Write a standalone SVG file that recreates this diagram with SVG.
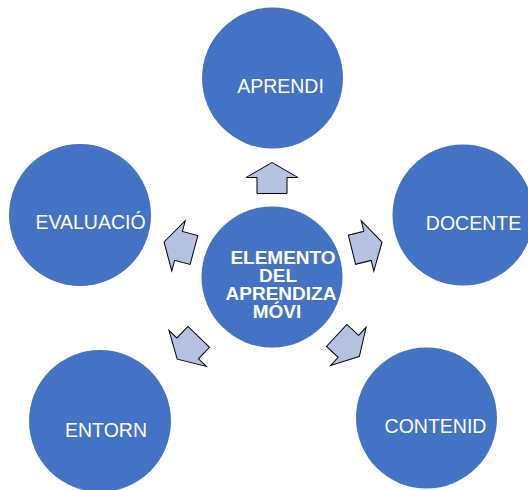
<svg xmlns="http://www.w3.org/2000/svg" width="528" height="490" viewBox="0 0 528 490">
  <style>
    .node { fill: #4472C4; }
    .lbl { font-family: "Liberation Sans", Arial, sans-serif; font-size: 19.5px; fill: #FFFFFF; text-anchor: middle; }
    .ctr { font-family: "Liberation Sans", Arial, sans-serif; font-size: 19px; font-weight: bold; fill: #FFFFFF; text-anchor: middle; }
    .arrow { fill: #B4C1E1; stroke: #000000; stroke-width: 1; stroke-linejoin: miter; }
  </style>
  <defs>
    <path id="blockArrow" d="M0,-15.5 L26,-0.5 L15,-0.5 L15,15.5 L-15,15.5 L-15,-0.5 L-26,-0.5 Z"/>
  </defs>
  <rect width="528" height="490" fill="#FFFFFF"/>
  <g id="connectors">
    <use href="#blockArrow" class="arrow" transform="translate(272,178)"/>
    <use href="#blockArrow" class="arrow" transform="translate(179,246) rotate(-75)"/>
    <use href="#blockArrow" class="arrow" transform="translate(367,246) rotate(76)"/>
    <use href="#blockArrow" class="arrow" transform="translate(188,348) rotate(-136)"/>
    <use href="#blockArrow" class="arrow" transform="translate(348,346) rotate(133)"/>
  </g>
  <g id="node-center">
    <circle class="node" cx="272" cy="277" r="70.5"/>
    <text class="ctr" x="283" y="264">ELEMENTO</text>
    <text class="ctr" x="278" y="282">DEL</text>
    <text class="ctr" x="281" y="300">APRENDIZA</text>
    <text class="ctr" x="277" y="318">MÓVI</text>
  </g>
  <g id="node-aprendi">
    <circle class="node" cx="272.5" cy="78" r="70.5"/>
    <text class="lbl" x="280.5" y="93">APRENDI</text>
  </g>
  <g id="node-evaluacio">
    <circle class="node" cx="80" cy="215" r="71"/>
    <text class="lbl" x="90.5" y="229">EVALUACIÓ</text>
  </g>
  <g id="node-docente">
    <circle class="node" cx="463" cy="215" r="70.5"/>
    <text class="lbl" x="473.5" y="230">DOCENTE</text>
  </g>
  <g id="node-entorn">
    <circle class="node" cx="100" cy="421" r="71"/>
    <text class="lbl" x="106" y="437">ENTORN</text>
  </g>
  <g id="node-contenid">
    <circle class="node" cx="426.5" cy="418" r="70.5"/>
    <text class="lbl" x="435.5" y="433">CONTENID</text>
  </g>
</svg>
